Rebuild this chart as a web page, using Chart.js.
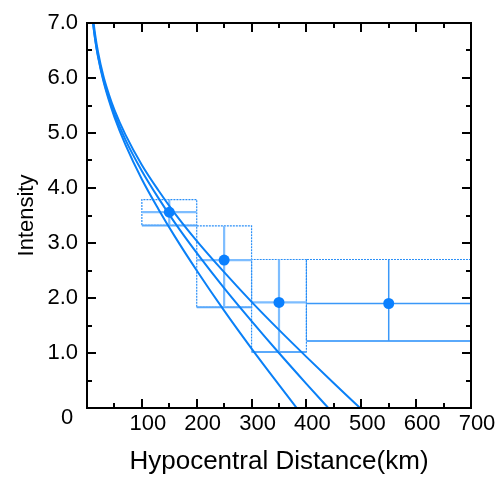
<!DOCTYPE html>
<html>
<head>
<meta charset="utf-8">
<script src="https://cdn.jsdelivr.net/npm/chart.js@4/dist/chart.umd.min.js"></script>
<style>
  html, body { margin: 0; padding: 0; background: #ffffff; }
</style>
</head>
<body>
<canvas id="chart" width="498" height="480"></canvas>
<script>
// Observed intensity per distance bin (km): bin range, bin centre, mean, min, max
const distLo  = [100, 200, 300, 400];
const distHi  = [200, 300, 400, 700];
const distMid = [150, 250, 350, 550];
const meanInt = [3.56, 2.69, 1.92, 1.90];
const minInt  = [3.32, 1.83, 1.02, 1.22];
const maxInt  = [3.79, 3.31, 2.70, 2.70];

// Attenuation curves: intensity vs hypocentral distance
const curveDist = [8, 10, 15, 20, 30, 40, 50, 70, 100, 130, 160, 200, 250, 300, 350, 400, 450, 500, 520];
const curveA = [7.31, 7.09, 6.69, 6.39, 5.94, 5.59, 5.29, 4.79, 4.16, 3.62, 3.12, 2.50, 1.77, 1.08, 0.42, -0.23];
const curveB = [7.30, 7.09, 6.70, 6.41, 5.97, 5.63, 5.35, 4.88, 4.31, 3.82, 3.37, 2.82, 2.18, 1.58, 1.00, 0.44, -0.11];
const curveC = [7.40, 7.18, 6.78, 6.48, 6.03, 5.70, 5.42, 4.97, 4.42, 3.96, 3.54, 3.04, 2.47, 1.93, 1.42, 0.93, 0.45, -0.02, -0.20];

// Axis ticks
const xTicks = [0, 100, 200, 300, 400, 500, 600, 700];
const yTicks = [0, 1, 2, 3, 4, 5, 6, 7];

const BLUE = '#0a80f7';
const DOT_BLUE = '#2a8ff7';
const LIGHT_BLUE = '#7dbdff';
const FONT = "'Liberation Sans', Arial, sans-serif";

const seg = (x1, y1, x2, y2) => [{ x: x1, y: y1 }, { x: x2, y: y2 }];
// higher "order" is painted first (underneath)
const lineSet = (data, color, width, dash, order) => ({
  data, order, showLine: true, borderColor: color, borderWidth: width,
  borderDash: dash || [], pointRadius: 0, fill: false, tension: 0
});

const datasets = [];

// dotted bin boxes
distLo.forEach((lo, i) => {
  const hi = distHi[i];
  datasets.push(lineSet([
    { x: lo, y: minInt[i] }, { x: hi, y: minInt[i] },
    { x: hi, y: maxInt[i] }, { x: lo, y: maxInt[i] }, { x: lo, y: minInt[i] }
  ], DOT_BLUE, 1.2, [2, 1], 4));
});

// cross lines and lower edges of each bin
distLo.forEach((lo, i) => {
  const hi = distHi[i];
  const last = i === distLo.length - 1;
  const c = last ? '#3a98f8' : LIGHT_BLUE;
  const w = last ? 1.5 : 2.2;
  datasets.push(lineSet(seg(lo, meanInt[i], hi, meanInt[i]), c, w, null, 3));
  datasets.push(lineSet(seg(distMid[i], minInt[i], distMid[i], maxInt[i]), c, w, null, 3));
  datasets.push(lineSet(seg(lo, minInt[i], hi, minInt[i]), '#5aa9fb', 2, null, 3));
});

// attenuation curves
[curveA, curveB, curveC].forEach(vals => {
  datasets.push({
    data: vals.map((v, i) => ({ x: curveDist[i], y: v })),
    order: 2, showLine: true, borderColor: BLUE, borderWidth: 2,
    pointRadius: 0, fill: false, cubicInterpolationMode: 'monotone'
  });
});

// bin means
datasets.push({
  data: distMid.map((x, i) => ({ x, y: meanInt[i] })),
  order: 1, showLine: false, pointRadius: 5.5, pointHoverRadius: 5.5,
  backgroundColor: '#0a80ff', borderWidth: 0
});

// frame with inward ticks on all four sides, plus the shared origin label
const framePlugin = {
  id: 'frame',
  afterDatasetsDraw(chart) {
    const { ctx, chartArea: a, scales: { x, y } } = chart;
    ctx.save();
    ctx.strokeStyle = '#000';
    ctx.lineWidth = 2;
    ctx.lineCap = 'butt';
    ctx.beginPath();
    for (let v = 50; v < 700; v += 50) {
      const len = v % 100 === 0 ? 9 : 5;
      const px = Math.round(x.getPixelForValue(v));
      ctx.moveTo(px, a.bottom); ctx.lineTo(px, a.bottom - len);
      ctx.moveTo(px, a.top); ctx.lineTo(px, a.top + len);
    }
    for (let v = 0.5; v < 7; v += 0.5) {
      const len = Math.abs(v - Math.round(v)) < 1e-6 ? 9 : 5;
      const py = Math.round(y.getPixelForValue(v));
      ctx.moveTo(a.left, py); ctx.lineTo(a.left + len, py);
      ctx.moveTo(a.right, py); ctx.lineTo(a.right - len, py);
    }
    ctx.stroke();
    ctx.strokeRect(a.left, a.top, a.right - a.left, a.bottom - a.top);

    ctx.fillStyle = '#000';
    ctx.font = '22px ' + FONT;
    ctx.textAlign = 'center';
    ctx.textBaseline = 'middle';
    ctx.fillText('0', x.getPixelForValue(0) - 20, y.getPixelForValue(0) + 10);
    ctx.restore();
  }
};

Chart.defaults.color = '#000';
Chart.defaults.font.family = FONT;

new Chart(document.getElementById('chart'), {
  type: 'scatter',
  data: { datasets },
  options: {
    responsive: false,
    devicePixelRatio: 1,
    animation: false,
    layout: { padding: { top: 23, right: 27, left: 0, bottom: 0 } },
    plugins: { legend: { display: false }, tooltip: { enabled: false } },
    scales: {
      x: {
        type: 'linear', min: xTicks[0], max: xTicks[xTicks.length - 1],
        afterBuildTicks: s => { s.ticks = xTicks.map(v => ({ value: v })); },
        ticks: {
          callback: v => (v === 0 ? '' : String(v)),
          font: { size: 22 }, padding: 3, labelOffset: 6,
          maxRotation: 0, autoSkip: false
        },
        grid: { display: false, drawTicks: false },
        border: { display: false },
        title: {
          display: true, text: 'Hypocentral Distance(km)',
          font: { size: 26 }, padding: { top: 0, bottom: 3 }
        },
        afterFit: s => { s.height = 72; }
      },
      y: {
        type: 'linear', min: yTicks[0], max: yTicks[yTicks.length - 1],
        afterBuildTicks: s => { s.ticks = yTicks.map(v => ({ value: v })); },
        ticks: {
          callback: v => (v === 0 ? '' : v.toFixed(1)),
          font: { size: 22 }, padding: 9, autoSkip: false
        },
        grid: { display: false, drawTicks: false },
        border: { display: false },
        title: {
          display: true, text: 'Intensity',
          font: { size: 22 }, padding: { top: 14, bottom: 0 }
        },
        afterFit: s => { s.width = 87; }
      }
    }
  },
  plugins: [framePlugin]
});
</script>
</body>
</html>
